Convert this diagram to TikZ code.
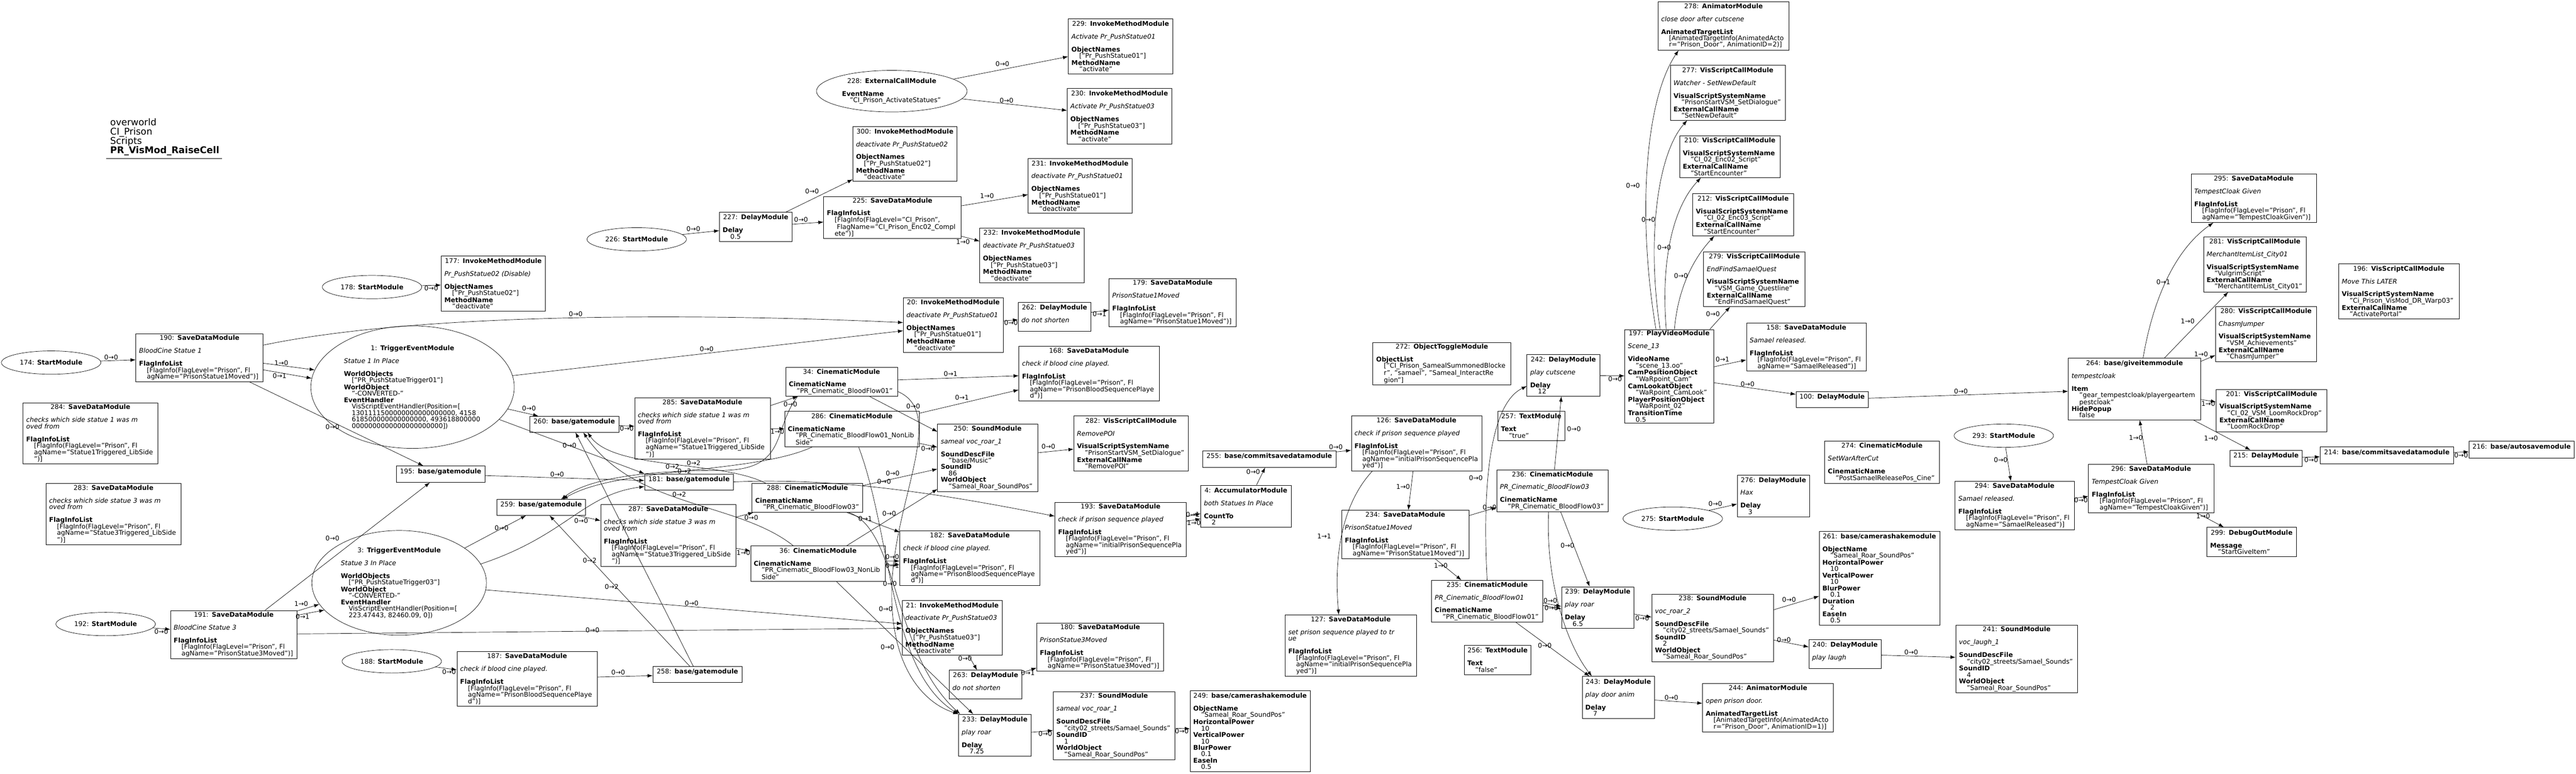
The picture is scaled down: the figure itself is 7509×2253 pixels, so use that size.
\documentclass[tikz,border=0pt]{standalone}
\usepackage{fontspec}
\setmainfont{DejaVu Sans}
\usetikzlibrary{arrows.meta,shapes.geometric}
\newcommand{\nodefont}{\fontsize{10.8pt}{10.65pt}\selectfont\hyphenpenalty=10000 }
\newcommand{\ttl}[2]{\makebox[\linewidth][c]{#1: \textbf{#2}}}
\newcommand{\sk}{\\\mbox{}\\}
\newcommand{\vin}{\hspace*{13pt}}
\tikzset{
    textw/.code={\pgfmathsetlengthmacro\modtw{#1*0.02cm-10.6pt}\pgfkeysalso{/tikz/text width/.expanded=\modtw}},
    mod/.style 2 args={draw, line width=0.6pt, font=\nodefont, align=left, inner xsep=5pt, inner ysep=2pt,
        minimum width=#1*0.02cm, minimum height=#2*0.02cm, textw=#1},
    strt/.style={draw, ellipse, line width=0.6pt, font=\nodefont, inner sep=0pt, minimum width=5.8cm, minimum height=1.36cm},
    trig/.style={draw, ellipse, line width=0.6pt, font=\nodefont, align=left, inner sep=0pt},
    lbl/.style={font=\nodefont, inner sep=0pt},
    link/.style={-{Latex[length=8.5pt,width=6pt]}, line width=0.6pt}
}
\begin{document}
\begin{tikzpicture}[x=0.02cm, y=-0.02cm]
\useasboundingbox (0,0) rectangle (7509,2253);

\node[font=\fontsize{15.4pt}{15.4pt}\selectfont, align=left, anchor=north west, inner sep=0pt] (hdr) at (321,345)
    {overworld\\CI\_Prison\\Scripts\\\textbf{PR\_VisMod\_RaiseCell}};
\draw[line width=0.6pt] (310,462) -- (648,462);

\node[strt] (m178) at (1084.5,836) {178: \textbf{StartModule}};
\node[strt] (m226) at (1856,697) {226: \textbf{StartModule}};
\node[strt] (m174) at (149,1056) {174: \textbf{StartModule}};
\node[strt] (m192) at (308,1817.5) {192: \textbf{StartModule}};
\node[strt] (m188) at (1142,1926) {188: \textbf{StartModule}};
\node[strt] (m275) at (4876,1510.5) {275: \textbf{StartModule}};
\node[strt] (m293) at (5841,1269) {293: \textbf{StartModule}};
\node[trig, minimum width=8.78cm, minimum height=2.42cm, text width=5.8cm] (m228) at (2599.5,265.5)
    {\ttl{228}{ExternalCallModule}\sk\textbf{EventName}\\\vin "CI\_Prison\_ActivateStatues"};
\node[trig, minimum width=11.86cm, minimum height=7.14cm, text width=8cm] (m1) at (1202.5,1127.5)
    {\ttl{1}{TriggerEventModule}\sk\textit{Statue 1 In Place}\sk\textbf{WorldObjects}\\\vin ["PR\_PushStatueTrigger01"]\\
    \textbf{WorldObject}\\\vin "-CONVERTED-"\\\textbf{EventHandler}\\\vin VisScriptEventHandler(Position=[\\
    \vin 1301111500000000000000000, 4158\\\vin 618500000000000000, 493618800000\\\vin 0000000000000000000000])};
\node[trig, minimum width=10.18cm, minimum height=6.1cm, text width=6.8cm] (m3) at (1163.5,1697.5)
    {\ttl{3}{TriggerEventModule}\sk\textit{Statue 3 In Place}\sk\textbf{WorldObjects}\\\vin ["PR\_PushStatueTrigger03"]\\
    \textbf{WorldObject}\\\vin "-CONVERTED-"\\\textbf{EventHandler}\\\vin VisScriptEventHandler(Position=[\\
    \vin 223.47443, 82460.09, 0])};

\node[mod={304}{160}] (m177) at (1438,826) {\ttl{177}{InvokeMethodModule}\sk\textit{Pr\_PushStatue02 (Disable)}\sk
    \textbf{ObjectNames}\\\vin ["Pr\_PushStatue02"]\\\textbf{MethodName}\\\vin "deactivate"};
\node[mod={305}{160}] (m229) at (3266.5,135) {\ttl{229}{InvokeMethodModule}\sk\textit{Activate Pr\_PushStatue01}\sk
    \textbf{ObjectNames}\\\vin ["Pr\_PushStatue01"]\\\textbf{MethodName}\\\vin "activate"};
\node[mod={305}{161}] (m230) at (3263.5,338.5) {\ttl{230}{InvokeMethodModule}\sk\textit{Activate Pr\_PushStatue03}\sk
    \textbf{ObjectNames}\\\vin ["Pr\_PushStatue03"]\\\textbf{MethodName}\\\vin "activate"};
\node[mod={304}{159}] (m300) at (2638,448.5) {\ttl{300}{InvokeMethodModule}\sk\textit{deactivate Pr\_PushStatue02}\sk
    \textbf{ObjectNames}\\\vin ["Pr\_PushStatue02"]\\\textbf{MethodName}\\\vin "deactivate"};
\node[mod={212}{85}] (m227) at (2203,660.5) {\ttl{227}{DelayModule}\sk\textbf{Delay}\\\vin 0.5};
\node[mod={401}{122}] (m225) at (2601.5,633) {\ttl{225}{SaveDataModule}\sk\textbf{FlagInfoList}\\
    \vin [FlagInfo(FlagLevel="CI\_Prison",\\\vin\hspace*{3.5pt}FlagName="CI\_Prison\_Enc02\_Compl\\\vin ete")]};
\node[mod={303}{159}] (m231) at (3148.5,541.5) {\ttl{231}{InvokeMethodModule}\sk\textit{deactivate Pr\_PushStatue01}\sk
    \textbf{ObjectNames}\\\vin ["Pr\_PushStatue01"]\\\textbf{MethodName}\\\vin "deactivate"};
\node[mod={304}{160}] (m232) at (3008,744) {\ttl{232}{InvokeMethodModule}\sk\textit{deactivate Pr\_PushStatue03}\sk
    \textbf{ObjectNames}\\\vin ["Pr\_PushStatue03"]\\\textbf{MethodName}\\\vin "deactivate"};
\node[mod={292}{159}] (m20) at (2779,946.5) {\ttl{20}{InvokeMethodModule}\sk\textit{deactivate Pr\_PushStatue01}\sk
    \textbf{ObjectNames}\\\vin ["Pr\_PushStatue01"]\\\textbf{MethodName}\\\vin "deactivate"};
\node[mod={212}{83}] (m262) at (3074,922.5) {\ttl{262}{DelayModule}\sk\textit{do not shorten}\\\mbox{}};
\node[mod={370}{140}] (m179) at (3418,881) {\ttl{179}{SaveDataModule}\sk\textit{PrisonStatue1Moved}\sk
    \textbf{FlagInfoList}\\\vin [FlagInfo(FlagLevel="Prison", Fl\\\vin agName="PrisonStatue1Moved")]};
\node[mod={409}{159}] (m168) at (3174.5,1087.5) {\ttl{168}{SaveDataModule}\sk\textit{check if blood cine played.}\sk
    \textbf{FlagInfoList}\\\vin [FlagInfo(FlagLevel="Prison", Fl\\\vin agName="PrisonBloodSequencePlaye\\\vin d")]};
\node[mod={326}{84}] (m34) at (2453,1112) {\ttl{34}{CinematicModule}\sk\textbf{CinematicName}\\\vin "PR\_Cinematic\_BloodFlow01"};
\node[mod={371}{140}] (m190) at (581.5,1042) {\ttl{190}{SaveDataModule}\sk\textit{BloodCine Statue 1}\sk
    \textbf{FlagInfoList}\\\vin [FlagInfo(FlagLevel="Prison", Fl\\\vin agName="PrisonStatue1Moved")]};
\node[mod={393}{178}] (m284) at (263.5,1262) {\ttl{284}{SaveDataModule}\sk\textit{checks which side statue 1 was m}\\
    \textit{oved from}\sk\textbf{FlagInfoList}\\\vin [FlagInfo(FlagLevel="Prison", Fl\\\vin agName="Statue1Triggered\_LibSide\\\vin ")]};
\node[mod={394}{178}] (m283) at (331,1497) {\ttl{283}{SaveDataModule}\sk\textit{checks which side statue 3 was m}\\
    \textit{oved from}\sk\textbf{FlagInfoList}\\\vin [FlagInfo(FlagLevel="Prison", Fl\\\vin agName="Statue3Triggered\_LibSide\\\vin ")]};
\node[mod={259}{48}] (m195) at (1284.5,1381) {\ttl{195}{base/gatemodule}\\\mbox{}};
\node[mod={260}{47}] (m260) at (1674,1235.5) {\ttl{260}{base/gatemodule}\\\mbox{}};
\node[mod={259}{46}] (m259) at (1577.5,1478) {\ttl{259}{base/gatemodule}\\\mbox{}};
\node[mod={259}{47}] (m181) at (2008.5,1403.5) {\ttl{181}{base/gatemodule}\\\mbox{}};
\node[mod={260}{47}] (m258) at (2033,1964.5) {\ttl{258}{base/gatemodule}\\\mbox{}};
\node[mod={369}{140}] (m191) at (681.5,1848) {\ttl{191}{SaveDataModule}\sk\textit{BloodCine Statue 3}\sk
    \textbf{FlagInfoList}\\\vin [FlagInfo(FlagLevel="Prison", Fl\\\vin agName="PrisonStatue3Moved")]};
\node[mod={409}{160}] (m187) at (1536.5,1977) {\ttl{187}{SaveDataModule}\sk\textit{check if blood cine played.}\sk
    \textbf{FlagInfoList}\\\vin [FlagInfo(FlagLevel="Prison", Fl\\\vin agName="PrisonBloodSequencePlaye\\\vin d")]};
\node[mod={395}{179}] (m285) at (2047.5,1247.5) {\ttl{285}{SaveDataModule}\sk\textit{checks which side statue 1 was m}\\
    \textit{oved from}\sk\textbf{FlagInfoList}\\\vin [FlagInfo(FlagLevel="Prison", Fl\\\vin agName="Statue1Triggered\_LibSide\\\vin ")]};
\node[mod={393}{103}] (m286) at (2483.5,1249.5) {\ttl{286}{CinematicModule}\sk\textbf{CinematicName}\\
    \vin "PR\_Cinematic\_BloodFlow01\_NonLib\\\vin Side"};
\node[mod={292}{197}] (m250) at (2879,1333.5) {\ttl{250}{SoundModule}\sk\textit{sameal voc\_roar\_1}\sk
    \textbf{SoundDescFile}\\\vin "base/Music"\\\textbf{SoundID}\\\vin 86\\\textbf{WorldObject}\\\vin "Sameal\_Roar\_SoundPos"};
\node[mod={334}{160}] (m282) at (3297,1291) {\ttl{282}{VisScriptCallModule}\sk\textit{RemovePOI}\sk
    \textbf{VisualScriptSystemName}\\\vin "PrisonStartVSM\_SetDialogue"\\\textbf{ExternalCallName}\\\vin "RemovePOI"};
\node[mod={323}{84}] (m288) at (2353.5,1450) {\ttl{288}{CinematicModule}\sk\textbf{CinematicName}\\\vin "PR\_Cinematic\_BloodFlow03"};
\node[mod={394}{179}] (m287) at (1948,1559.5) {\ttl{287}{SaveDataModule}\sk\textit{checks which side statue 3 was m}\\
    \textit{oved from}\sk\textbf{FlagInfoList}\\\vin [FlagInfo(FlagLevel="Prison", Fl\\\vin agName="Statue3Triggered\_LibSide\\\vin ")]};
\node[mod={393}{103}] (m36) at (2384.5,1641.5) {\ttl{36}{CinematicModule}\sk\textbf{CinematicName}\\
    \vin "PR\_Cinematic\_BloodFlow03\_NonLib\\\vin Side"};
\node[mod={408}{159}] (m182) at (2827,1625.5) {\ttl{182}{SaveDataModule}\sk\textit{check if blood cine played.}\sk
    \textbf{FlagInfoList}\\\vin [FlagInfo(FlagLevel="Prison", Fl\\\vin agName="PrisonBloodSequencePlaye\\\vin d")]};
\node[mod={383}{158}] (m193) at (3266.5,1542) {\ttl{193}{SaveDataModule}\sk\textit{check if prison sequence played}\sk
    \textbf{FlagInfoList}\\\vin [FlagInfo(FlagLevel="Prison", Fl\\\vin agName="initialPrisonSequencePla\\\vin yed")]};
\node[mod={292}{159}] (m21) at (2776,1828.5) {\ttl{21}{InvokeMethodModule}\sk\textit{deactivate Pr\_PushStatue03}\sk
    \textbf{ObjectNames}\\\vin ["Pr\_PushStatue03"]\\\textbf{MethodName}\\\vin "deactivate"};
\node[mod={370}{141}] (m180) at (3207,1884.5) {\ttl{180}{SaveDataModule}\sk\textit{PrisonStatue3Moved}\sk
    \textbf{FlagInfoList}\\\vin [FlagInfo(FlagLevel="Prison", Fl\\\vin agName="PrisonStatue3Moved")]};
\node[mod={212}{84}] (m263) at (2873,1994) {\ttl{263}{DelayModule}\sk\textit{do not shorten}\\\mbox{}};
\node[mod={212}{122}] (m233) at (2900,2141) {\ttl{233}{DelayModule}\sk\textit{play roar}\sk\textbf{Delay}\\\vin 7.25};
\node[mod={355}{197}] (m237) at (3247.5,2113.5) {\ttl{237}{SoundModule}\sk\textit{sameal voc\_roar\_1}\sk
    \textbf{SoundDescFile}\\\vin "city02\_streets/Samael\_Sounds"\\\textbf{SoundID}\\\vin 1\\\textbf{WorldObject}\\\vin "Sameal\_Roar\_SoundPos"};
\node[mod={350}{235}] (m249) at (3644,2129.5) {\ttl{249}{base/camerashakemodule}\sk\textbf{ObjectName}\\
    \vin "Sameal\_Roar\_SoundPos"\\\textbf{HorizontalPower}\\\vin 10\\\textbf{VerticalPower}\\\vin 10\\
    \textbf{BlurPower}\\\vin 0.1\\\textbf{EaseIn}\\\vin 0.5};
\node[mod={264}{123}] (m4) at (3632,1474.5) {\ttl{4}{AccumulatorModule}\sk\textit{both Statues In Place}\sk\textbf{CountTo}\\\vin 2};
\node[mod={388}{48}] (m255) at (3700,1337) {\ttl{255}{base/commitsavedatamodule}\\\mbox{}};
\node[mod={382}{141}] (m278) at (5024,75.5) {\ttl{278}{AnimatorModule}\sk\textit{close door after cutscene}\sk
    \textbf{AnimatedTargetList}\\\vin [AnimatedTargetInfo(AnimatedActo\\\vin r="Prison\_Door", AnimationID=2)]};
\node[mod={335}{160}] (m277) at (5036.5,270) {\ttl{277}{VisScriptCallModule}\sk\textit{Watcher - SetNewDefault}\sk
    \textbf{VisualScriptSystemName}\\\vin "PrisonStartVSM\_SetDialogue"\\\textbf{ExternalCallName}\\\vin "SetNewDefault"};
\node[mod={293}{122}] (m210) at (5042.5,456) {\ttl{210}{VisScriptCallModule}\sk
    \textbf{VisualScriptSystemName}\\\vin "CI\_02\_Enc02\_Script"\\\textbf{ExternalCallName}\\\vin "StartEncounter"};
\node[mod={294}{123}] (m212) at (5081,625.5) {\ttl{212}{VisScriptCallModule}\sk
    \textbf{VisualScriptSystemName}\\\vin "CI\_02\_Enc03\_Script"\\\textbf{ExternalCallName}\\\vin "StartEncounter"};
\node[mod={296}{160}] (m279) at (5114,813) {\ttl{279}{VisScriptCallModule}\sk\textit{EndFindSamaelQuest}\sk
    \textbf{VisualScriptSystemName}\\\vin "VSM\_Game\_Questline"\\\textbf{ExternalCallName}\\\vin "EndFindSamaelQuest"};
\node[mod={349}{140}] (m158) at (5265.5,1011) {\ttl{158}{SaveDataModule}\sk\textit{Samael released.}\sk
    \textbf{FlagInfoList}\\\vin [FlagInfo(FlagLevel="Prison", Fl\\\vin agName="SamaelReleased")]};
\node[mod={259}{272}] (m197) at (4865.5,1096) {\ttl{197}{PlayVideoModule}\sk\textit{Scene\_13}\sk
    \textbf{VideoName}\\\vin "scene\_13.oo"\\\textbf{CamPositionObject}\\\vin "WaRpoint\_Cam"\\
    \textbf{CamLookatObject}\\\vin "WaRpoint\_CamLook"\\\textbf{PlayerPositionObject}\\\vin "WaRpoint\_02"\\
    \textbf{TransitionTime}\\\vin 0.5};
\node[mod={402}{123}] (m272) at (4203,1059.5) {\ttl{272}{ObjectToggleModule}\sk\textbf{ObjectList}\\
    \vin ["CI\_Prison\_SamealSummonedBlocke\\\vin r", "samael", "Sameal\_InteractRe\\\vin gion"]};
\node[mod={212}{122}] (m242) at (4557,1093) {\ttl{242}{DelayModule}\sk\textit{play cutscene}\sk\textbf{Delay}\\\vin 12};
\node[mod={211}{47}] (m100) at (5340.5,1163.5) {\ttl{100}{DelayModule}\\\mbox{}};
\node[mod={196}{86}] (m257) at (4464,1240) {\ttl{257}{TextModule}\sk\textbf{Text}\\\vin "true"};
\node[mod={380}{160}] (m126) at (4129,1291) {\ttl{126}{SaveDataModule}\sk\textit{check if prison sequence played}\sk
    \textbf{FlagInfoList}\\\vin [FlagInfo(FlagLevel="Prison", Fl\\\vin agName="initialPrisonSequencePla\\\vin yed")]};
\node[mod={325}{123}] (m236) at (4525.5,1429.5) {\ttl{236}{CinematicModule}\sk\textit{PR\_Cinematic\_BloodFlow03}\sk
    \textbf{CinematicName}\\\vin "PR\_Cinematic\_BloodFlow03"};
\node[mod={334}{123}] (m274) at (5486,1346.5) {\ttl{274}{CinematicModule}\sk\textit{SetWarAfterCut}\sk
    \textbf{CinematicName}\\\vin "PostSamaelReleasePos\_Cine"};
\node[mod={211}{122}] (m276) at (5169.5,1444) {\ttl{276}{DelayModule}\sk\textit{Hax}\sk\textbf{Delay}\\\vin 3};
\node[mod={371}{141}] (m234) at (4096.5,1556.5) {\ttl{234}{SaveDataModule}\sk\textit{PrisonStatue1Moved}\sk
    \textbf{FlagInfoList}\\\vin [FlagInfo(FlagLevel="Prison", Fl\\\vin agName="PrisonStatue1Moved")]};
\node[mod={351}{272}] (m261) at (5478.5,1684) {\ttl{261}{base/camerashakemodule}\sk\textbf{ObjectName}\\
    \vin "Sameal\_Roar\_SoundPos"\\\textbf{HorizontalPower}\\\vin 10\\\textbf{VerticalPower}\\\vin 10\\
    \textbf{BlurPower}\\\vin 0.1\\\textbf{Duration}\\\vin 2\\\textbf{EaseIn}\\\vin 0.5};
\node[mod={324}{122}] (m235) at (4335,1751) {\ttl{235}{CinematicModule}\sk\textit{PR\_Cinematic\_BloodFlow01}\sk
    \textbf{CinematicName}\\\vin "PR\_Cinematic\_BloodFlow01"};
\node[mod={211}{121}] (m239) at (4657.5,1769.5) {\ttl{239}{DelayModule}\sk\textit{play roar}\sk\textbf{Delay}\\\vin 6.5};
\node[mod={354}{196}] (m238) at (4992,1829) {\ttl{238}{SoundModule}\sk\textit{voc\_roar\_2}\sk
    \textbf{SoundDescFile}\\\vin "city02\_streets/Samael\_Sounds"\\\textbf{SoundID}\\\vin 2\\\textbf{WorldObject}\\\vin "Sameal\_Roar\_SoundPos"};
\node[mod={383}{178}] (m127) at (3937.5,1880) {\ttl{127}{SaveDataModule}\sk\textit{set prison sequence played to tr}\\
    \textit{ue}\sk\textbf{FlagInfoList}\\\vin [FlagInfo(FlagLevel="Prison", Fl\\\vin agName="initialPrisonSequencePla\\\vin yed")]};
\node[mod={195}{86}] (m256) at (4365.5,1922) {\ttl{256}{TextModule}\sk\textbf{Text}\\\vin "false"};
\node[mod={211}{84}] (m240) at (5378.5,1905) {\ttl{240}{DelayModule}\sk\textit{play laugh}\\\mbox{}};
\node[mod={211}{123}] (m243) at (4717.5,2031.5) {\ttl{243}{DelayModule}\sk\textit{play door anim}\sk\textbf{Delay}\\\vin 7};
\node[mod={381}{141}] (m244) at (5153.5,2061.5) {\ttl{244}{AnimatorModule}\sk\textit{open prison door.}\sk
    \textbf{AnimatedTargetList}\\\vin [AnimatedTargetInfo(AnimatedActo\\\vin r="Prison\_Door", AnimationID=1)]};
\node[mod={365}{142}] (m295) at (6569.5,577) {\ttl{295}{SaveDataModule}\sk\textit{TempestCloak Given}\sk
    \textbf{FlagInfoList}\\\vin [FlagInfo(FlagLevel="Prison", Fl\\\vin agName="TempestCloakGiven")]};
\node[mod={300}{160}] (m281) at (6573,770) {\ttl{281}{VisScriptCallModule}\sk\textit{MerchantItemList\_City01}\sk
    \textbf{VisualScriptSystemName}\\\vin "VulgrimScript"\\\textbf{ExternalCallName}\\\vin "MerchantItemList\_City01"};
\node[mod={351}{160}] (m196) at (6992.5,848) {\ttl{196}{VisScriptCallModule}\sk\textit{Move This LATER}\sk
    \textbf{VisualScriptSystemName}\\\vin "Ci\_Prison\_VisMod\_DR\_Warp03"\\\textbf{ExternalCallName}\\\vin "ActivatePortal"};
\node[mod={295}{160}] (m280) at (6605.5,973) {\ttl{280}{VisScriptCallModule}\sk\textit{ChasmJumper}\sk
    \textbf{VisualScriptSystemName}\\\vin "VSM\_Achievements"\\\textbf{ExternalCallName}\\\vin "ChasmJumper"};
\node[mod={386}{180}] (m264) at (6222,1133) {\ttl{264}{base/giveitemmodule}\sk\textit{tempestcloak}\sk
    \textbf{Item}\\\vin "gear\_tempestcloak/playergeartem\\\vin pestcloak"\\\textbf{HidePopup}\\\vin false};
\node[mod={323}{122}] (m201) at (6621.5,1196) {\ttl{201}{VisScriptCallModule}\sk
    \textbf{VisualScriptSystemName}\\\vin "CI\_02\_VSM\_LoomRockDrop"\\\textbf{ExternalCallName}\\\vin "LoomRockDrop"};
\node[mod={347}{141}] (m294) at (5872.5,1472.5) {\ttl{294}{SaveDataModule}\sk\textit{Samael released.}\sk
    \textbf{FlagInfoList}\\\vin [FlagInfo(FlagLevel="Prison", Fl\\\vin agName="SamaelReleased")]};
\node[mod={365}{142}] (m296) at (6270.5,1423) {\ttl{296}{SaveDataModule}\sk\textit{TempestCloak Given}\sk
    \textbf{FlagInfoList}\\\vin [FlagInfo(FlagLevel="Prison", Fl\\\vin agName="TempestCloakGiven")]};
\node[mod={211}{47}] (m215) at (6605.5,1334.5) {\ttl{215}{DelayModule}\\\mbox{}};
\node[mod={389}{49}] (m214) at (6957.5,1325.5) {\ttl{214}{base/commitsavedatamodule}\\\mbox{}};
\node[mod={307}{49}] (m216) at (7350.5,1309.5) {\ttl{216}{base/autosavemodule}\\\mbox{}};
\node[mod={261}{85}] (m299) at (6563.5,1578.5) {\ttl{299}{DebugOutModule}\sk\textbf{Message}\\\vin "StartGiveItem"};
\node[mod={355}{197}] (m241) at (5878.5,1919.5) {\ttl{241}{SoundModule}\sk\textit{voc\_laugh\_1}\sk
    \textbf{SoundDescFile}\\\vin "city02\_streets/Samael\_Sounds"\\\textbf{SoundID}\\\vin 4\\\textbf{WorldObject}\\\vin "Sameal\_Roar\_SoundPos"};

\draw[link] (m174) -- (m190) node[lbl] at (324,1040) {0→0};
\draw[link] (m178) -- (m177) node[lbl] at (1257,840) {0→0};
\draw[link] ([yshift=-9pt]m190.east) -- (m1.170) node[lbl] at (820,1057) {1→0};
\draw[link] ([yshift=-20pt]m190.east) -- (m1.175) node[lbl] at (815,1095) {0→1};
\draw[link] ([yshift=21pt]m190.east) .. controls (1250,905) and (2100,915) .. ([yshift=4pt]m20.west) node[lbl] at (1678,914) {0→0};
\draw[link] (m1) -- (m20) node[lbl] at (2060,1016) {0→0};
\draw[link] (m190) -- (m195) node[lbl] at (969,1244) {0→0};
\draw[link] (m1) -- (m260) node[lbl] at (1542,1189) {0→0};
\draw[link] (m1) -- (m181.north west) node[lbl] at (1660,1298) {0→0};
\draw[link] (m195) -- (m181) node[lbl] at (1624,1382) {0→0};
\draw[link] (m191) -- (m195) node[lbl] at (969,1568) {0→0};
\draw[link] (m3) -- (m259) node[lbl] at (1462,1538) {0→0};
\draw[link] (m3.13) .. controls (1650,1560) and (1700,1440) .. ([yshift=-7.7pt]m181.west);
\draw[link] ([yshift=39pt]m191.east) -- (m3.195) node[lbl] at (878,1759) {1→0};
\draw[link] ([yshift=32pt]m191.east) -- (m3.200) node[lbl] at (882,1796) {0→1};
\draw[link] (m192) -- (m191) node[lbl] at (470,1840) {0→0};
\draw[link] (m191) -- (m21) node[lbl] at (1727,1835) {0→0};
\draw[link] (m3) -- (m21) node[lbl] at (2016,1757) {0→0};
\draw[link] (m188) -- (m187) node[lbl] at (1309,1956) {0→0};
\draw[link] (m187) -- (m258) node[lbl] at (1802,1958) {0→0};
\draw[link] (m258) -- ([xshift=2pt]m260.south) node[lbl] at (1719,1633) {0→2};
\draw[link] (m258) -- ([xshift=14pt]m259.south) node[lbl] at (1783,1709) {0→2};
\draw[link] (m260) -- (m285) node[lbl] at (1827,1248) {0→0};
\draw[link] (m259) -- (m287) node[lbl] at (1694,1517) {0→0};
\draw[link] (m285) -- (m34) node[lbl] at (2304,1178) {0→0};
\draw[link] (m285) -- (m286) node[lbl] at (2266,1257) {1→0};
\draw[link] (m287) -- (m288) node[lbl] at (2190,1508) {0→0};
\draw[link] (m287) -- (m36) node[lbl] at (2167,1610) {1→0};
\draw[link] (m34) -- (m168) node[lbl] at (2771,1088) {0→1};
\draw[link] (m286) -- (m168) node[lbl] at (2804,1158) {0→1};
\draw[link] (m34) -- (m250) node[lbl] at (2662,1183) {0→0};
\draw[link] (m286) -- (m250) node[lbl] at (2705,1306) {0→0};
\draw[link] (m288) -- (m250) node[lbl] at (2602,1378) {0→0};
\draw[link] (m181.east) .. controls (2450,1390) and (2750,1440) .. ([yshift=22pt]m193.west) node[lbl] at (2577,1403) {0→0};
\draw[link] (m36) -- (m250) node[lbl] at (2592,1496) {0→0};
\draw[link] (m288) -- (m182) node[lbl] at (2522,1510) {0→1};
\draw[link] ([yshift=4.3pt]m36.east) -- ([yshift=-4.8pt]m182.west) node[lbl] at (2601,1622) {0→0};
\draw[link] ([yshift=-2pt]m36.east) -- ([yshift=-11pt]m182.west) node[lbl] at (2601,1647) {0→1};
\draw[link] (m36) -- (m233) node[lbl] at (2587,1885) {0→0};
\draw[link] ([yshift=-16pt]m34.east) .. controls (2760,1200) and (2610,1450) .. (2600,1700)
    .. controls (2590,1950) and (2700,2050) .. (m233.north west) node[lbl] at (2594,1700) {0→0};
\draw[link] ([xshift=11pt]m286.south) .. controls (2600,1560) and (2590,1950) .. (m233.north west) node[lbl] at (2582,1773) {0→0};
\draw[link] ([xshift=-24pt]m288.south east) .. controls (2620,1540) and (2600,1900) .. ([xshift=3pt]m233.north west);
\draw[link] ([xshift=-69pt]m288.north) .. controls (2100,1340) and (1790,1370) .. ([xshift=22pt]m260.south) node[lbl] at (1960,1359) {0→2};
\draw[link] ([xshift=-65.6pt]m286.south) .. controls (2200,1380) and (1800,1360) .. ([xshift=35.6pt]m259.north) node[lbl] at (2022,1348) {0→2};
\draw[link] ([xshift=-72.8pt]m34.south) .. controls (2250,1250) and (2300,1370) .. (2100,1370)
    .. controls (1900,1370) and (1720,1390) .. ([xshift=33pt]m259.north) node[lbl] at (1995,1372) {0→2};
\draw[link] ([xshift=-41pt]m36.north) .. controls (2150,1460) and (1850,1480) .. ([xshift=15pt]m260.south) node[lbl] at (1980,1440) {0→2};
\draw[link] (m21) -- (m263) node[lbl] at (2813,1918) {0→0};
\draw[link] (m263) -- (m180) node[lbl] at (2996,1960) {0→1};
\draw[link] (m233) -- (m237) node[lbl] at (3047,2137) {0→0};
\draw[link] (m237) -- (m249) node[lbl] at (3445,2129) {0→0};
\draw[link] (m250) -- (m282) node[lbl] at (3056,1301) {0→0};
\draw[link] ([yshift=21.6pt]m193.east) -- ([yshift=-12.2pt]m4.west) node[lbl] at (3477,1499) {0→1};
\draw[link] ([yshift=13.7pt]m193.east) -- ([yshift=-20.8pt]m4.west) node[lbl] at (3480,1522) {1→0};
\draw[link] (m4) -- (m255) node[lbl] at (3653,1374) {0→0};
\draw[link] (m255) -- (m126) node[lbl] at (3894,1302) {0→0};
\draw[link] (m126) -- (m234) node[lbl] at (4090,1417) {1→0};
\draw[link] ([xshift=-73pt]m126.south) .. controls (3900,1480) and (3890,1650) .. ([xshift=-20pt]m127.north) node[lbl] at (3860,1562) {1→1};
\draw[link] (m234) -- (m236) node[lbl] at (4342,1478) {0→0};
\draw[link] (m234) -- (m235) node[lbl] at (4200,1648) {1→0};
\draw[link] (m235.north) .. controls (4322,1450) and (4335,1180) .. ([yshift=17pt]m242.south west) node[lbl] at (4302,1392) {0→0};
\draw[link] (m236) -- (m242) node[lbl] at (4588,1249) {0→0};
\draw[link] (m236) -- (m239) node[lbl] at (4569,1588) {0→0};
\draw[link] ([xshift=-6.5pt]m236.south) .. controls (4505,1700) and (4570,1880) .. ([xshift=-44pt]m243.north);
\draw[link] ([yshift=-3pt]m235.east) -- ([yshift=2pt]m239.west) node[lbl] at (4519,1749) {0→0};
\draw[link] ([yshift=-7pt]m235.east) -- ([yshift=-2pt]m239.west) node[lbl] at (4522,1771) {0→0};
\draw[link] (m235) -- (m243) node[lbl] at (4503,1880) {0→0};
\draw[link] (m239) -- (m238) node[lbl] at (4787,1801) {0→0};
\draw[link] (m238) -- (m261) node[lbl] at (5215,1746) {0→0};
\draw[link] (m238) -- (m240) node[lbl] at (5200,1863) {0→0};
\draw[link] (m240) -- (m241) node[lbl] at (5571,1900) {0→0};
\draw[link] (m243) -- (m244) node[lbl] at (4872,2032) {0→0};
\draw[link] (m242) -- (m197) node[lbl] at (4708,1103) {0→0};
\draw[link] ([xshift=-21.9pt]m197.north) .. controls (4775,650) and (4790,300) .. ([xshift=-74.6pt]m278.south) node[lbl] at (4760,541) {0→0};
\draw[link] ([xshift=-15pt]m197.north) .. controls (4800,700) and (4830,450) .. ([xshift=-67.4pt]m277.south) node[lbl] at (4805,639) {0→0};
\draw[link] ([xshift=-4.8pt]m197.north) .. controls (4840,750) and (4880,600) .. ([xshift=-48pt]m210.south) node[lbl] at (4851,721) {0→0};
\draw[link] ([xshift=8.8pt]m197.north) .. controls (4890,850) and (4930,760) .. ([xshift=-47.8pt]m212.south) node[lbl] at (4900,804) {0→0};
\draw[link] ([xshift=67.4pt]m197.north) -- ([xshift=-40.4pt]m279.south) node[lbl] at (4993,915) {0→0};
\draw[link] (m197) -- (m158) node[lbl] at (5021,1047) {0→1};
\draw[link] (m197) -- (m100) node[lbl] at (5094,1119) {0→0};
\draw[link] (m100) -- (m264) node[lbl] at (5716,1139) {0→0};
\draw[link] ([xshift=14.2pt]m264.north) .. controls (6280,850) and (6350,720) .. ([xshift=-67pt]m295.south) node[lbl] at (6306,822) {0→1};
\draw[link] (m264) -- (m281) node[lbl] at (6377,935) {1→0};
\draw[link] (m264) -- (m280) node[lbl] at (6416,1032) {1→0};
\draw[link] (m264) -- (m201) node[lbl] at (6437,1176) {1→0};
\draw[link] (m264) -- (m215) node[lbl] at (6445,1276) {1→0};
\draw[link] (m296) -- (m264) node[lbl] at (6226,1275) {1→0};
\draw[link] (m293) -- (m294) node[lbl] at (5832,1340) {0→0};
\draw[link] (m294) -- (m296) node[lbl] at (6066,1456) {0→0};
\draw[link] (m296) -- (m299) node[lbl] at (6422,1503) {1→0};
\draw[link] (m215) -- (m214) node[lbl] at (6737,1339) {0→0};
\draw[link] (m214) -- (m216) node[lbl] at (7174,1326) {0→0};
\draw[link] (m275) -- (m276) node[lbl] at (5000,1467) {0→0};
\draw[link] (m20) -- (m262) node[lbl] at (2947,940) {0→0};
\draw[link] (m262) -- (m179) node[lbl] at (3205,915) {0→1};
\draw[link] (m228) -- (m229) node[lbl] at (2922,186) {0→0};
\draw[link] (m228) -- (m230) node[lbl] at (2934,293) {0→0};
\draw[link] (m226) -- (m227) node[lbl] at (2021,667) {0→0};
\draw[link] (m227) -- (m300) node[lbl] at (2367,557) {0→0};
\draw[link] (m227) -- (m225) node[lbl] at (2335,639) {0→0};
\draw[link] (m225) -- (m231) node[lbl] at (2877,571) {1→0};
\draw[link] (m225) -- (m232) node[lbl] at (2807,704) {1→0};
\end{tikzpicture}
\end{document}
